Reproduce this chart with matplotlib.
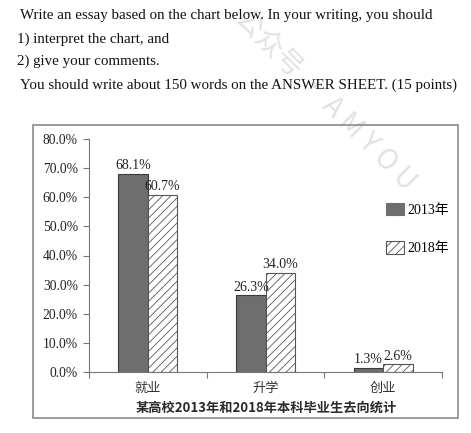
import matplotlib.pyplot as plt
from matplotlib.patches import Rectangle, Patch

# data
categories = ['就业', '升学', '创业']
years = ['2013年', '2018年']
values_2013 = [68.1, 26.3, 1.3]
values_2018 = [60.7, 34.0, 2.6]
y_ticks = [0, 10, 20, 30, 40, 50, 60, 70, 80]
prompt_lines = [
    'Write an essay based on the chart below. In your writing, you should',
    '1) interpret the chart, and',
    '2) give your comments.',
    'You should write about 150 words on the ANSWER SHEET. (15 points)',
]
chart_title = '某高校2013年和2018年本科毕业生去向统计'

SERIF = ['Liberation Serif', 'Noto Sans CJK SC']
CJK = ['Noto Sans CJK SC', 'DejaVu Sans']

plt.rcParams['hatch.linewidth'] = 0.6
plt.rcParams['hatch.color'] = '#555555'

W, H = 471, 433
fig = plt.figure(figsize=(W / 100, H / 100), dpi=100)

# prompt text at the top
prompt_y = [15, 39, 61, 85]
prompt_x = [20, 17, 17, 20]
for txt, x, y in zip(prompt_lines, prompt_x, prompt_y):
    fig.text(x / W, 1 - y / H, txt, family=SERIF, fontsize=10.85,
             ha='left', va='center', color='#111111')

# outer frame of the chart
fig.patches.append(Rectangle((33 / W, 1 - 418 / H), (458 - 33) / W, (418 - 125) / H,
                             transform=fig.transFigure, fill=False,
                             edgecolor='#8a8a8a', linewidth=1.2))

ax = fig.add_axes([89 / W, 1 - 372 / H, (442 - 89) / W, (372 - 139) / H])

x = list(range(len(categories)))
bw = 0.25
x13 = [i - bw / 2 for i in x]
x18 = [i + bw / 2 for i in x]
ax.bar(x13, values_2013, width=bw, color='#6e6e6e', edgecolor='#3a3a3a', linewidth=0.8)
ax.bar(x18, values_2018, width=bw, color='white', edgecolor='#555555', linewidth=0.8,
       hatch='////')

for xs, vals in ((x13, values_2013), (x18, values_2018)):
    for xi, v in zip(xs, vals):
        ax.text(xi, v + 0.6, f'{v:.1f}%', ha='center', va='bottom',
                family=SERIF, fontsize=10, color='#222222')

ax.set_xlim(-0.5, 2.5)
ax.set_ylim(0, 80)
ax.set_yticks(y_ticks)
ax.set_yticklabels([f'{t:.1f}%' for t in y_ticks], family=SERIF, fontsize=9.8, color='#222222')
ax.set_xticks(x)
ax.set_xticklabels(categories, family=CJK, fontsize=9.5, color='#333333')
ax.set_xticks([-0.5, 0.5, 1.5, 2.5], minor=True)
ax.tick_params(axis='x', which='major', length=0, pad=7)
ax.tick_params(axis='x', which='minor', length=4, width=0.8, color='#777777', direction='out')
ax.tick_params(axis='y', length=4, width=0.8, color='#777777', pad=4)

for s in ('top', 'right'):
    ax.spines[s].set_visible(False)
for s in ('left', 'bottom'):
    ax.spines[s].set_color('#777777')
    ax.spines[s].set_linewidth(0.8)

handles = [Patch(facecolor='#6e6e6e', edgecolor='#6e6e6e', linewidth=0.8),
           Patch(facecolor='white', edgecolor='#555555', hatch='////', linewidth=0.8)]
fig.legend(handles, years, loc='upper left', bbox_to_anchor=(386 / W, 1 - 203 / H),
           frameon=False, prop={'family': SERIF, 'size': 10},
           handlelength=1.3, handleheight=1.0, handletextpad=0.25,
           labelspacing=1.75, borderpad=0, borderaxespad=0)

fig.text(266 / W, 1 - 408 / H, chart_title, family=CJK, fontsize=9.5,
         fontweight='bold', ha='center', va='center', color='#2a2a2a')

# faint watermark
fig.text(325 / W, 1 - 100 / H, '公众号 · A M Y O U', family=CJK, fontsize=20,
         fontweight='light', rotation=-45, rotation_mode='anchor',
         ha='center', va='center', color='#e2e2e2', zorder=0)

fig.savefig('out.png', dpi=100)
